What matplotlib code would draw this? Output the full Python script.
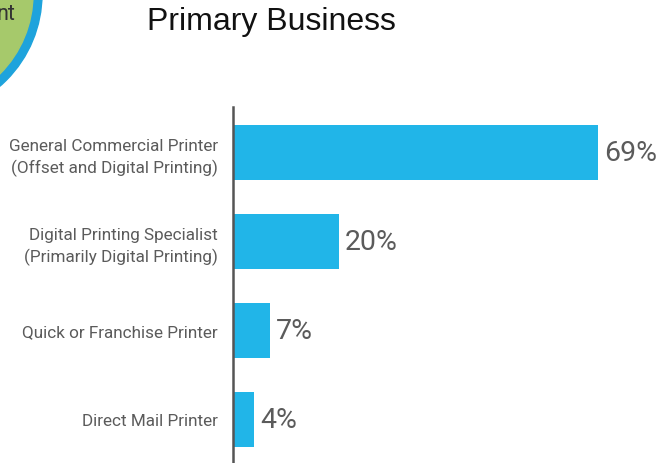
import matplotlib.pyplot as plt
from matplotlib.patches import Circle

categories = [
    "General Commercial Printer\n(Offset and Digital Printing)",
    "Digital Printing Specialist\n(Primarily Digital Printing)",
    "Quick or Franchise Printer",
    "Direct Mail Printer",
]
shares = [69, 20, 7, 4]
title = "Primary Business"

BAR = "#21b5e8"
GREY = "#5b5b5b"

fig = plt.figure(figsize=(6.59, 4.64), dpi=100)

# decorative badge peeking in from the top-left corner (pixel coordinates)
deco = fig.add_axes([0, 0, 1, 1], zorder=0)
deco.set_xlim(0, 659)
deco.set_ylim(464, 0)
deco.axis("off")
deco.add_patch(Circle((-80, -5), 122, color="#1ea3dc"))
deco.add_patch(Circle((-80, -5), 113, color="#a6c96b"))
deco.text(15, 14, "nt", ha="right", va="center", fontsize=15.5,
          family="Roboto", color="#333333")

ax = fig.add_axes([233 / 659, 0, 1 - 233 / 659, (464 - 108) / 464], zorder=1)
ax.patch.set_alpha(0)
pos = range(len(categories))
ax.barh(pos, shares, height=0.62, color=BAR)
ax.set_ylim(3.49, -0.51)
ax.set_xlim(0, 80.5)

for y, v in zip(pos, shares):
    ax.text(v + 1.1, y, f"{v}%", va="center", ha="left", fontsize=20.5,
            family="Roboto", color=GREY)

ax.set_yticks(list(pos))
ax.set_yticklabels(categories, fontsize=12.3, family="Roboto", color=GREY,
                   linespacing=1.45)
ax.tick_params(axis="y", length=0, pad=11)
ax.set_xticks([])
for side in ("top", "right", "bottom"):
    ax.spines[side].set_visible(False)
ax.spines["left"].set_color("#555555")
ax.spines["left"].set_linewidth(1.8)

fig.text(271 / 659, 1 - 22 / 464, title, ha="center", va="center",
         fontsize=23, family="Liberation Sans", color="#111111")

fig.savefig("out.png", dpi=100)
